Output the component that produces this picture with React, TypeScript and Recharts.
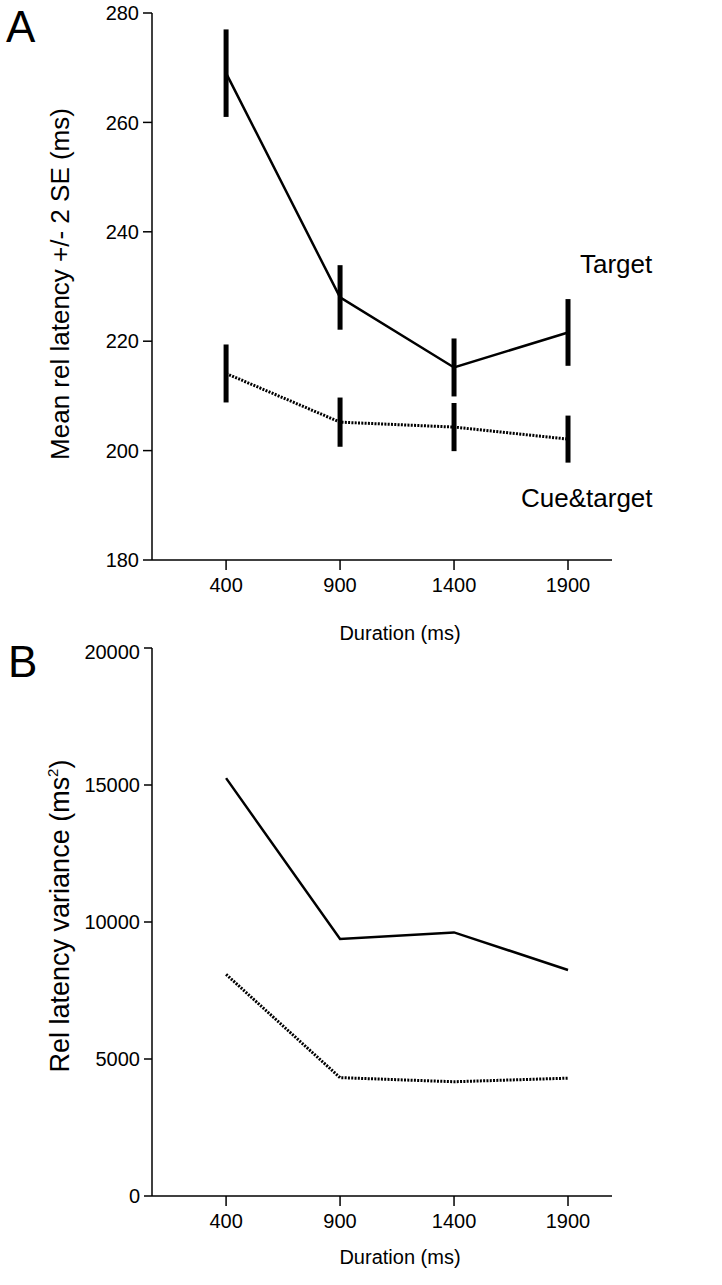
import React from "react";
import { LineChart, Line, XAxis, YAxis, ErrorBar, Label } from "recharts";

const durations = [400, 900, 1400, 1900];
const targetMean = [269, 228, 215.2, 221.6];
const targetErr = [8, 5.9, 5.3, 6.1];
const cueMean = [214.1, 205.2, 204.3, 202.1];
const cueErr = [5.3, 4.5, 4.4, 4.3];
const targetVar = [15250, 9380, 9620, 8250];
const cueVar = [8090, 4320, 4170, 4300];
const latencyTicks = [180, 200, 220, 240, 260, 280];
const varianceTicks = [0, 5000, 10000, 15000, 20000];

const latencyData = durations.map((d, i) => ({
  duration: d,
  target: targetMean[i],
  targetErr: targetErr[i],
  cue: cueMean[i],
  cueErr: cueErr[i],
}));

const varianceData = durations.map((d, i) => ({
  duration: d,
  target: targetVar[i],
  cue: cueVar[i],
}));

const FONT = "'Liberation Sans', Arial, Helvetica, sans-serif";
const tickStyle = { fill: "#000", fontSize: 20, fontFamily: FONT };
const axisLine = { stroke: "#000", strokeWidth: 1.5 };
const tickLine = { stroke: "#000", strokeWidth: 1.5 };

const xLabel = (y: number) => () => (
  <text x={400} y={y} textAnchor="middle" fontSize={20} fontFamily={FONT} fill="#000">
    Duration (ms)
  </text>
);

const yLabelA = () => (
  <text
    x={0}
    y={0}
    transform="translate(69 284) rotate(-90)"
    textAnchor="middle"
    fontSize={26}
    fontFamily={FONT}
    fill="#000"
  >
    Mean rel latency +/- 2 SE (ms)
  </text>
);

const yLabelB = () => (
  <text
    x={0}
    y={0}
    transform="translate(69 276) rotate(-90)"
    textAnchor="middle"
    fontSize={27}
    fontFamily={FONT}
    fill="#000"
  >
    Rel latency variance (ms
    <tspan dy={-11} fontSize={15}>2</tspan>
    <tspan dy={11}>)</tspan>
  </text>
);

export default function App() {
  return (
    <div style={{ position: "absolute", left: 0, top: 0, width: 722, height: 1285, background: "#fff" }}>
      <div style={{ position: "absolute", left: 0, top: 0 }}>
        <LineChart
          width={722}
          height={650}
          data={latencyData}
          margin={{ top: 13, right: 110, left: 92, bottom: 50 }}
        >
          <XAxis
            type="number"
            dataKey="duration"
            domain={[75, 2093]}
            ticks={durations}
            tickSize={10}
            tickMargin={8}
            height={40}
            tick={tickStyle}
            axisLine={axisLine}
            tickLine={tickLine}
          >
            <Label content={xLabel(640)} />
          </XAxis>
          <YAxis
            domain={[180, 280]}
            ticks={latencyTicks}
            width={60}
            tickSize={9}
            tickMargin={4}
            tick={tickStyle}
            axisLine={axisLine}
            tickLine={tickLine}
          >
            <Label content={yLabelA} />
          </YAxis>
          <Line
            dataKey="target"
            stroke="#000"
            strokeWidth={2.5}
            dot={false}
            isAnimationActive={false}
          >
            <ErrorBar dataKey="targetErr" direction="y" width={0} stroke="#000" strokeWidth={5} />
          </Line>
          <Line
            dataKey="cue"
            stroke="#000"
            strokeWidth={3}
            strokeDasharray="2 1.3"
            dot={false}
            isAnimationActive={false}
          >
            <ErrorBar dataKey="cueErr" direction="y" width={0} stroke="#000" strokeWidth={5} />
          </Line>
        </LineChart>
      </div>

      <div style={{ position: "absolute", left: 0, top: 640 }}>
        <LineChart
          width={722}
          height={645}
          data={varianceData}
          margin={{ top: 8, right: 110, left: 92, bottom: 49 }}
        >
          <XAxis
            type="number"
            dataKey="duration"
            domain={[75, 2093]}
            ticks={durations}
            tickSize={10}
            tickMargin={8}
            height={40}
            tick={tickStyle}
            axisLine={axisLine}
            tickLine={tickLine}
          >
            <Label content={xLabel(624)} />
          </XAxis>
          <YAxis
            domain={[0, 20000]}
            ticks={varianceTicks}
            width={60}
            tickSize={8}
            tickMargin={4}
            tick={tickStyle}
            axisLine={axisLine}
            tickLine={tickLine}
          >
            <Label content={yLabelB} />
          </YAxis>
          <Line
            dataKey="target"
            stroke="#000"
            strokeWidth={2.5}
            dot={false}
            isAnimationActive={false}
          />
          <Line
            dataKey="cue"
            stroke="#000"
            strokeWidth={3}
            strokeDasharray="2 1.3"
            dot={false}
            isAnimationActive={false}
          />
        </LineChart>
      </div>

      <svg
        width={722}
        height={1285}
        style={{ position: "absolute", left: 0, top: 0, pointerEvents: "none" }}
      >
        <text x={6} y={42} fontSize={44} fontFamily={FONT} fill="#000">A</text>
        <text x={8} y={677} fontSize={44} fontFamily={FONT} fill="#000">B</text>
        <text x={580} y={273} fontSize={26} fontFamily={FONT} fill="#000">Target</text>
        <text x={521} y={507} fontSize={26} fontFamily={FONT} fill="#000">Cue&amp;target</text>
      </svg>
    </div>
  );
}
